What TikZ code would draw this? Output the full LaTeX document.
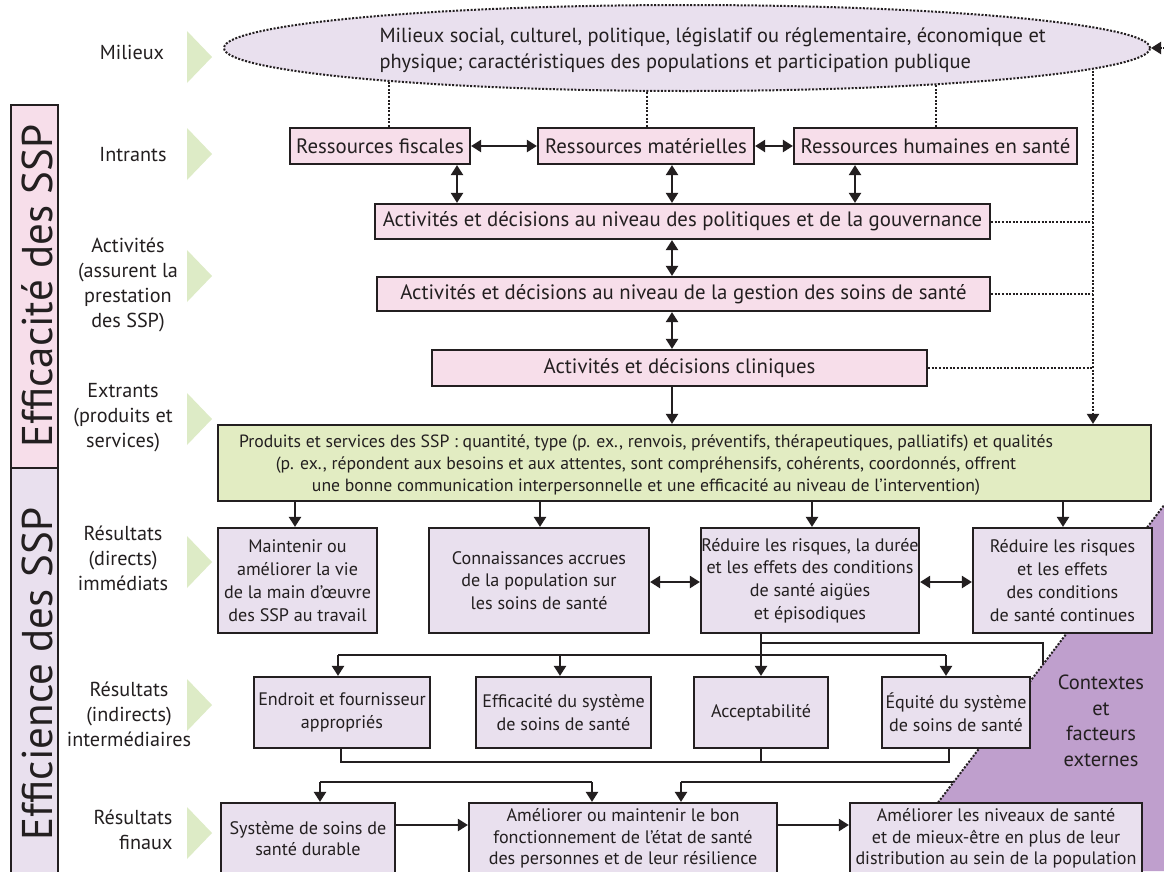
\documentclass[tikz,border=0pt]{standalone}
\usepackage{fontspec}
\setmainfont{PT Sans}
\usetikzlibrary{arrows.meta,shapes.geometric}
\definecolor{pinkf}{RGB}{247,222,234}
\definecolor{purf}{RGB}{233,224,238}
\definecolor{greenf}{RGB}{226,236,194}
\definecolor{trig}{RGB}{221,235,198}
\definecolor{ctxc}{RGB}{191,159,205}
\definecolor{ln}{RGB}{35,31,32}
\pgfdeclarelayer{conn}
\pgfdeclarelayer{ctxl}
\pgfsetlayers{conn,ctxl,main}
\begin{document}
\begin{tikzpicture}[x=1pt,y=-1pt,
 box/.style={draw=ln,line width=2.2pt,inner sep=0pt,align=center,text=ln},
 pbox/.style={box,fill=pinkf,font=\fontsize{20.8}{24}\selectfont,minimum height=36},
 rbox/.style={box,fill=purf,font=\fontsize{18.1}{22.8}\selectfont},
 fbox/.style={box,fill=purf,font=\fontsize{18.1}{21.5}\selectfont,minimum height=71},
 lab/.style={align=center,font=\fontsize{20.2}{25}\selectfont,text=ln},
 conn/.style={draw=ln,line width=2.2pt,line join=miter},
 arr/.style={conn,-{Triangle[length=10pt,width=12pt]}},
 darr/.style={conn,{Triangle[length=10pt,width=12pt]}-{Triangle[length=10pt,width=12pt]}},
 dotl/.style={draw=ln,line width=2pt,dash pattern=on 2pt off 1.6pt},
 bar/.style={draw=ln,line width=2.2pt,inner sep=0pt,minimum width=47},
 bartext/.style={rotate=90,font=\fontsize{43}{43}\selectfont,text=ln},
]
\useasboundingbox (0,0) rectangle (1164,871);

% ---------- left bars ----------
\node[bar,fill=pinkf,minimum height=363] (effa) at (34.5,286.5) {};
\node[bar,fill=purf,minimum height=420] (effi) at (34.5,678) {};
\node[bartext] (effatxt) at (37,286) {Efficacité des SSP};
\node[bartext] (effitxt) at (37,674) {Efficience des SSP};

% ---------- row labels and triangles ----------
\foreach \c in {57,154,276,419,562,705,833}{
  \fill[trig] (187,\c-26) -- (212,\c) -- (187,\c+26) -- cycle;
}
\node[lab] (lmil) at (132,52) {Milieux};
\node[lab] (lint) at (133,155) {Intrants};
\node[lab] (lact) at (128,285) {Activités\\(assurent la\\prestation\\des SSP)};
\node[lab] (lext) at (123,418) {Extrants\\(produits et\\services)};
\node[lab] (ldir) at (123,558) {Résultats\\(directs)\\immédiats};
\node[lab] (lind) at (129,714) {Résultats\\(indirects)\\intermédiaires};
\node[lab,align=right,anchor=east] (lfin) at (176,830) {Résultats\\finaux};

% ---------- ellipse ----------
\node[ellipse,dotl,fill=purf,minimum width=926,minimum height=86,inner sep=0pt] (ell) at (687,48) {};
\node[anchor=west,align=left,font=\fontsize{20.4}{26}\selectfont,text=ln] (elltxt) at (376,50)
 {Milieux social, culturel, politique, législatif ou réglementaire, économique et\\physique; caractéristiques des populations et participation publique};

% ---------- inputs / activities ----------
\node[pbox,minimum width=180] (fisc) at (380,146) {Ressources fiscales};
\node[pbox,minimum width=216] (mat) at (646,146) {Ressources matérielles};
\node[pbox,minimum width=283] (hum) at (935.5,146) {Ressources humaines en santé};
\node[pbox,minimum width=615,minimum height=35] (pol) at (682.5,221.5) {Activités et décisions au niveau des politiques et de la gouvernance};
\node[pbox,minimum width=613,minimum height=34] (ges) at (683.5,294) {Activités et décisions au niveau de la gestion des soins de santé};
\node[pbox,minimum width=495] (cli) at (679.5,368) {Activités et décisions cliniques};

% ---------- outputs ----------
\node[box,fill=greenf,minimum width=933,minimum height=76] (green) at (684.5,463) {};
\node[align=center,font=\fontsize{17.7}{22}\selectfont,text=ln] (greentxt) at (646,465)
 {Produits et services des SSP : quantité, type (p. ex., renvois, préventifs, thérapeutiques, palliatifs) et qualités\\
  (p. ex., répondent aux besoins et aux attentes, sont compréhensifs, cohérents, coordonnés, offrent\\
  une bonne communication interpersonnelle et une efficacité au niveau de l’intervention)};

% ---------- immediate results ----------
\node[rbox,minimum width=159,minimum height=105] (d1) at (297.5,580.5) {Maintenir ou\\améliorer la vie\\de la main d’œuvre\\des SSP au travail};
\node[rbox,minimum width=220,minimum height=105] (d2) at (539,580.5) {Connaissances accrues\\de la population sur\\les soins de santé};
\node[rbox,minimum width=218,minimum height=105] (d3) at (810,580.5) {Réduire les risques, la durée\\et les effets des conditions\\de santé aigües\\et épisodiques};
\node[rbox,minimum width=179,minimum height=105] (d4) at (1062.5,580.5) {Réduire les risques\\et les effets\\des conditions\\de santé continues};

% ---------- intermediate results ----------
\node[rbox,minimum width=176,minimum height=71] (i1) at (342,712.5) {Endroit et fournisseur\\appropriés};
\node[rbox,minimum width=175,minimum height=71] (i2) at (563.5,712.5) {Efficacité du système\\de soins de santé};
\node[rbox,minimum width=134,minimum height=71] (i3) at (761,712.5) {Acceptabilité};
\node[rbox,minimum width=148,minimum height=71] (i4) at (956,712.5) {Équité du système\\de soins de santé};

% ---------- final results ----------
\node[fbox,minimum width=174] (f1) at (308,838.5) {Système de soins de\\santé durable};
\node[fbox,minimum width=308] (f2) at (623,838.5) {Améliorer ou maintenir le bon\\fonctionnement de l’état de santé\\des personnes et de leur résilience};
\node[fbox,minimum width=292] (f3) at (996,838.5) {Améliorer les niveaux de santé\\et de mieux-être en plus de leur\\distribution au sein de la population};

% ---------- context ----------
\node[align=center,font=\fontsize{20.5}{25.5}\selectfont,text=ln] (ctxt) at (1101,721) {Contextes\\et\\facteurs\\externes};

\begin{pgfonlayer}{ctxl}
  \fill[ctxc] (1168,500) -- (886,871) -- (1175,871) -- (1175,500) -- cycle;
  \draw[dotl] (1168,500) -- (886,871);
\end{pgfonlayer}

\begin{pgfonlayer}{conn}
  \fill[white] (0,0) rectangle (1164,871);
  % dotted links
  \coordinate (e1) at (389,60);
  \coordinate (e2) at (647,60);
  \coordinate (e3) at (936,60);
  \coordinate (e4) at (1093,60);
  \coordinate (etip) at (1172,48);
  \draw[dotl] (e1) -- (fisc.north -| e1);
  \draw[dotl] (e2) -- (mat.north -| e2);
  \draw[dotl] (e3) -- (hum.north -| e3);
  \draw[dotl,-{Triangle[length=10pt,width=12pt]}] (e4) -- (green.north -| e4);
  \draw[dotl] (pol.east) -- (pol.east -| e4);
  \draw[dotl] (ges.east) -- (ges.east -| e4);
  \draw[dotl] (cli.east) -- (cli.east -| e4);
  \draw[dotl,-{Triangle[length=10pt,width=12pt]}] (etip) -- (ell.east);
  % inputs
  \draw[darr] (fisc.east) -- (mat.west);
  \draw[darr] (mat.east) -- (hum.west);
  \draw[darr] (fisc.south -| 457,0) -- (pol.north -| 457,0);
  \draw[darr] (mat.south -| 672,0) -- (pol.north -| 672,0);
  \draw[darr] (hum.south -| 855,0) -- (pol.north -| 855,0);
  \draw[darr] (pol.south -| 672,0) -- (ges.north -| 672,0);
  \draw[darr] (ges.south -| 672,0) -- (cli.north -| 672,0);
  \draw[arr] (cli.south -| 672,0) -- (green.north -| 672,0);
  % outputs to immediate
  \draw[arr] (green.south -| 295,0) -- (d1.north -| 295,0);
  \draw[arr] (green.south -| 540,0) -- (d2.north -| 540,0);
  \draw[arr] (green.south -| 812,0) -- (d3.north -| 812,0);
  \draw[arr] (green.south -| 1063,0) -- (d4.north -| 1063,0);
  \draw[darr] (d2.east |- 0,582) -- (d3.west |- 0,582);
  \draw[darr] (d3.east |- 0,582) -- (d4.west |- 0,582);
  % immediate to intermediate
  \coordinate (ja) at (761,643);
  \coordinate (b1) at (338,655);
  \coordinate (b2) at (560,655);
  \coordinate (b4) at (946,655);
  \draw[arr] (d3.south -| i3.north) -- (i3.north);
  \draw[conn] (ja) -- (1043,643) -- (1043,700);
  \draw[conn] (b1) -- (b4);
  \draw[arr] (b1) -- (i1.north -| b1);
  \draw[arr] (b2) -- (i2.north -| b2);
  \draw[arr] (b4) -- (i4.north -| b4);
  % intermediate to final
  \coordinate (c1) at (341,762);
  \coordinate (c4) at (949,762);
  \draw[conn] (i1.south -| c1) -- (c1) -- (c4) -- (i4.south -| c4);
  \draw[conn] (i3.south) -- (i3.south |- c1);
  \coordinate (g1) at (320,782);
  \coordinate (g2) at (592,782);
  \coordinate (g3) at (681,782);
  \coordinate (g4) at (1000,782);
  \draw[conn] (g1) -- (g2);
  \draw[arr] (g1) -- (f1.north -| g1);
  \draw[arr] (g2) -- (f2.north -| g2);
  \draw[conn] (g4) -- (g3);
  \draw[arr] (g3) -- (f2.north -| g3);
  \draw[arr] (f1.east |- 0,825) -- (f2.west |- 0,825);
  \draw[arr] (f2.east |- 0,825) -- (f3.west |- 0,825);
\end{pgfonlayer}
\end{tikzpicture}
\end{document}
